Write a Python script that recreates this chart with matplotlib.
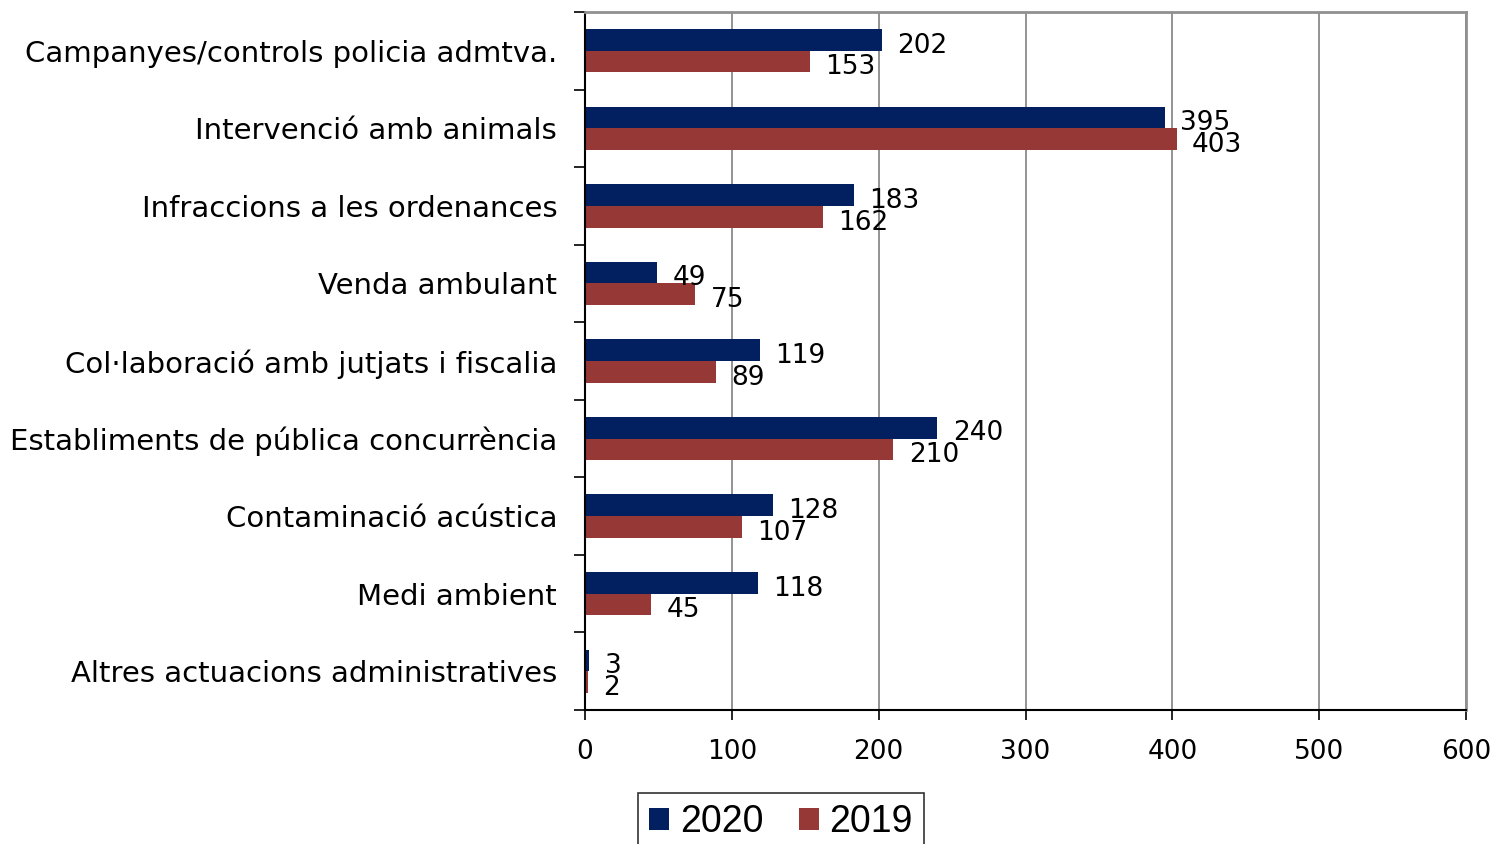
import numpy as np
import matplotlib.pyplot as plt

categories = [
    "Campanyes/controls policia admtva.",
    "Intervenció amb animals",
    "Infraccions a les ordenances",
    "Venda ambulant",
    "Col·laboració amb jutjats i fiscalia",
    "Establiments de pública concurrència",
    "Contaminació acústica",
    "Medi ambient",
    "Altres actuacions administratives",
]
values_2020 = [202, 395, 183, 49, 119, 240, 128, 118, 3]
values_2019 = [153, 403, 162, 75, 89, 210, 107, 45, 2]
x_ticks = [0, 100, 200, 300, 400, 500, 600]

blue = "#022060"
red = "#963836"

fig = plt.figure(figsize=(14.94, 8.44), dpi=100)
ax = fig.add_axes([585 / 1494, 1 - 710 / 844, (1466 - 585) / 1494, (710 - 12) / 844])

y = np.arange(len(categories))
h = 0.28
b1 = ax.barh(y - h / 2, values_2020, height=h, color=blue, label="2020")
b2 = ax.barh(y + h / 2, values_2019, height=h, color=red, label="2019")

# value labels just right of each bar, nudged down a little like the original
for bars, vals in ((b1, values_2020), (b2, values_2019)):
    for rect, v in zip(bars, vals):
        ax.annotate(str(v), (rect.get_width(), rect.get_y() + rect.get_height() / 2),
                    xytext=(11, -2), textcoords="offset points",
                    ha="left", va="center_baseline", fontsize=19, color="black")

ax.set_xlim(0, 600)
ax.set_ylim(len(categories) - 0.5, -0.5)
ax.set_xticks(x_ticks)
ax.set_xticklabels([str(t) for t in x_ticks], fontsize=19)
ax.tick_params(axis="x", length=7, width=1.2, pad=14)

ax.set_yticks(y)
ax.set_yticklabels(categories, fontsize=21)
ax.tick_params(axis="y", which="major", length=0, pad=20)
ax.set_yticks(np.arange(-0.5, len(categories), 1), minor=True)
ax.tick_params(axis="y", which="minor", length=8, width=1.2)

ax.xaxis.grid(True, color="#808080", linewidth=1.2)
ax.set_axisbelow(True)
for side in ("left", "bottom"):
    ax.spines[side].set_color("black")
    ax.spines[side].set_linewidth(1.5)
for side in ("top", "right"):
    ax.spines[side].set_color("#909090")
    ax.spines[side].set_linewidth(2)

leg = fig.legend(handles=[b1, b2], loc="upper left",
                 bbox_to_anchor=(638 / 1494, 1 - 793 / 844),
                 ncol=2, frameon=True, fancybox=False, edgecolor="black",
                 prop={"family": "Liberation Sans", "size": 27},
                 handlelength=0.53, handleheight=0.53, handletextpad=0.28,
                 columnspacing=0.95, borderpad=0.3, borderaxespad=0)
leg.get_frame().set_linewidth(1.2)

fig.savefig("out.png", dpi=100)
